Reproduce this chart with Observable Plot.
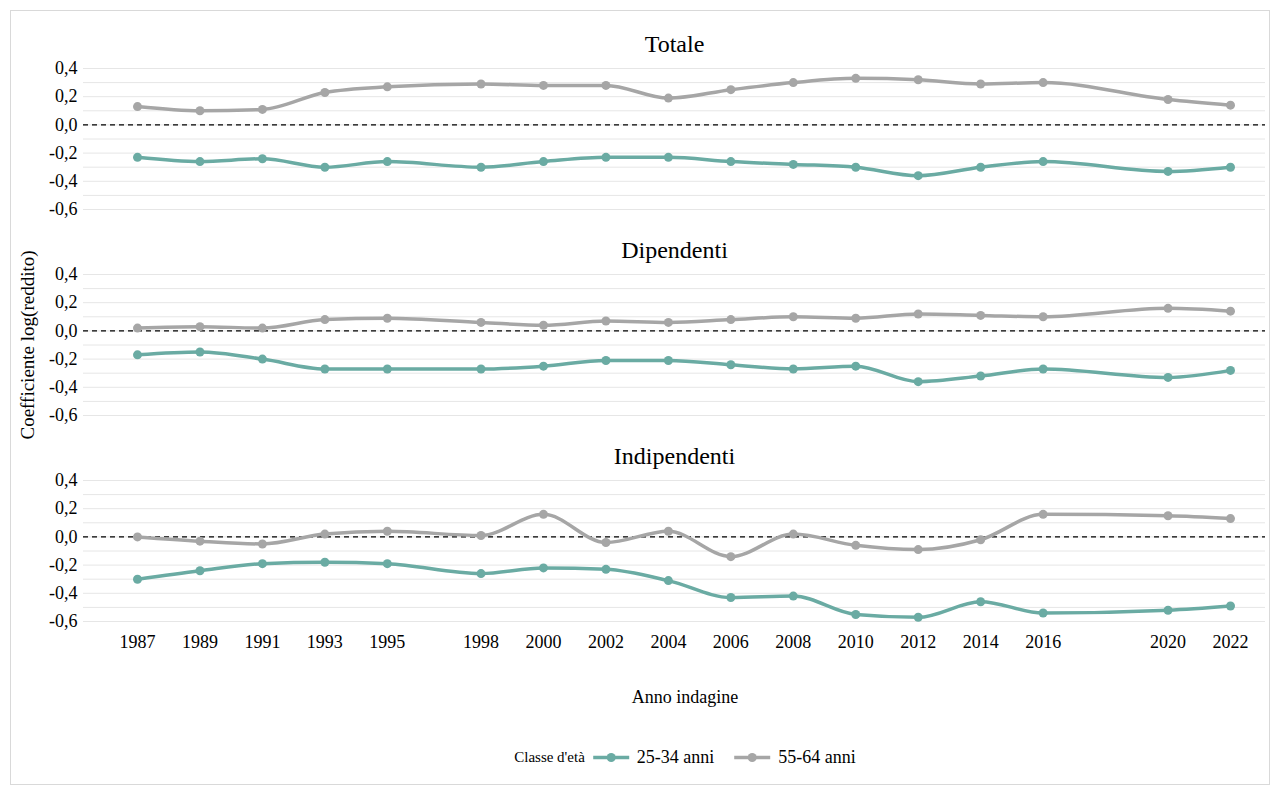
<!DOCTYPE html>
<html><head><meta charset="utf-8">
<script src="https://cdn.jsdelivr.net/npm/d3@7"></script>
<script src="https://cdn.jsdelivr.net/npm/@observablehq/plot@0.6"></script>
<style>
body{margin:0;background:#fff;font-family:"Liberation Serif","Times New Roman","DejaVu Serif",serif;}
#wrap{position:relative;width:1281px;height:789px;overflow:hidden;}
#box{position:absolute;left:10px;top:10px;width:1258px;height:773px;border:1px solid #d9d9d9;}
.p{position:absolute;left:0;}
.p, .p text, .p g{font-family:"Liberation Serif","Times New Roman","DejaVu Serif",serif !important;}
.lab{position:absolute;font-size:18px;color:#000;}
</style></head><body>
<div id="wrap"><div id="box"></div></div>
<script>
const years = [1987,1989,1991,1993,1995,1998,2000,2002,2004,2006,2008,2010,2012,2014,2016,2020,2022];
const panels = ["Totale","Dipendenti","Indipendenti"];
const series = ["25-34 anni","55-64 anni"];
const totale_25_34 = [-.23,-.26,-.24,-.30,-.26,-.30,-.26,-.23,-.23,-.26,-.28,-.30,-.36,-.30,-.26,-.33,-.30];
const totale_55_64 = [.13,.10,.11,.23,.27,.29,.28,.28,.19,.25,.30,.33,.32,.29,.30,.18,.14];
const dip_25_34 = [-.17,-.15,-.20,-.27,-.27,-.27,-.25,-.21,-.21,-.24,-.27,-.25,-.36,-.32,-.27,-.33,-.28];
const dip_55_64 = [.02,.03,.02,.08,.09,.06,.04,.07,.06,.08,.10,.09,.12,.11,.10,.16,.14];
const ind_25_34 = [-.30,-.24,-.19,-.18,-.19,-.26,-.22,-.23,-.31,-.43,-.42,-.55,-.57,-.46,-.54,-.52,-.49];
const ind_55_64 = [-.00,-.03,-.05,.02,.04,.01,.16,-.04,.04,-.14,.02,-.06,-.09,-.02,.16,.15,.13];
const colors = ["#6aaba3","#a6a6a6"];
const panelData = [[totale_25_34,totale_55_64],[dip_25_34,dip_55_64],[ind_25_34,ind_55_64]];
const yTicks = [-0.6,-0.4,-0.2,0,0.2,0.4];
const yGrid = d3.range(-6,5).map(d=>d/10);
const fmt = d => d.toFixed(1).replace(".",",").replace("-0,0","0,0");
const wrap = document.getElementById("wrap");
panels.forEach((name,i)=>{
  const rows = [];
  panelData[i].forEach((arr,s)=>arr.forEach((v,j)=>rows.push({year:years[j],value:v,serie:series[s]})));
  const last = i===2;
  const h = last?240:206;
  const chart = Plot.plot({
    width:1281, height:h,
    marginTop:48, marginBottom:h-48-141, marginLeft:83, marginRight:16,
    insetLeft:54, insetRight:35,
    style:{fontSize:"18px", color:"#000", background:"transparent"},
    x:{domain:[1987,2022], ticks:years, tickFormat:d=>String(d), tickSize:0, tickPadding:14, label:null, axis: last?"bottom":null},
    y:{domain:[-0.6,0.4], ticks:yTicks, tickFormat:fmt, tickSize:0, tickPadding:6, label:null},
    color:{domain:series, range:colors},
    marks:[
      Plot.ruleY(yGrid,{stroke:"#e6e6e6", strokeWidth:1}),
      Plot.ruleY([0],{stroke:"#000", strokeDasharray:"5,4", strokeWidth:1.2}),
      Plot.line(rows,{x:"year",y:"value",stroke:"serie",strokeWidth:3.5,curve:"monotone-x"}),
      Plot.dot(rows,{x:"year",y:"value",fill:"serie",r:4.5,symbol:"circle"}),
      Plot.text([name],{frameAnchor:"top",dy:-34,text:d=>d,fontSize:24,fill:"#000"})
    ]
  });
  chart.classList.add("p");
  chart.style.top = (20+206*i)+"px";
  wrap.appendChild(chart);
});
function lab(t,css){const d=document.createElement("div");d.className="lab";d.textContent=t;Object.assign(d.style,css);wrap.appendChild(d);return d;}
lab("Coefficiente log(reddito)",{left:"28px",top:"345px",transform:"translate(-50%,-50%) rotate(-90deg)",whiteSpace:"nowrap",fontSize:"19px"});
lab("Anno indagine",{left:"685px",top:"697px",transform:"translate(-50%,-50%)",fontSize:"18px"});
const lg = lab("",{left:"685px",top:"757px",transform:"translate(-50%,-50%)",display:"flex",alignItems:"center",gap:"6px",whiteSpace:"nowrap",fontSize:"18px"});
const sw = c=>`<svg width="40" height="12"><line x1="2" y1="6" x2="38" y2="6" stroke="${c}" stroke-width="3.5"/><circle cx="20" cy="6" r="4.5" fill="${c}"/></svg>`;
lg.innerHTML = `<span style="font-size:15px">Classe d'età</span>${sw(colors[0])}<span>25-34 anni</span><span style="width:6px"></span>${sw(colors[1])}<span>55-64 anni</span>`;
</script></body></html>
